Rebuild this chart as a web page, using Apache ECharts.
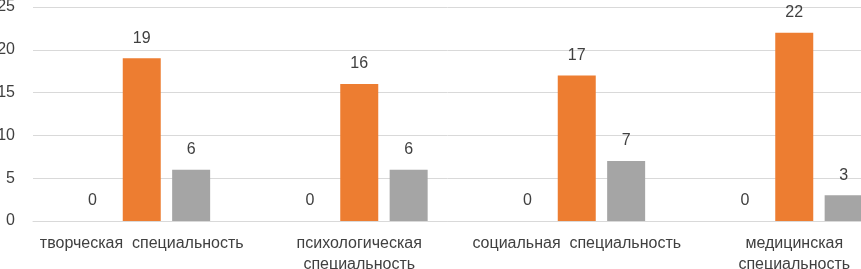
<!DOCTYPE html>
<html>
<head>
<meta charset="utf-8">
<script src="https://cdn.jsdelivr.net/npm/echarts@6/dist/echarts.min.js"></script>
<style>
  html, body { margin: 0; padding: 0; background: #fff; }
  #chart { width: 861px; height: 269px; }
</style>
</head>
<body>
<div id="chart"></div>
<script>
// категории и значения рядов
const categories = [
  'творческая  специальность',
  'психологическая\nспециальность',
  'социальная  специальность',
  'медицинская\nспециальность'
];
const series1 = [0, 0, 0, 0];
const series2 = [19, 16, 17, 22];
const series3 = [6, 6, 7, 3];
const yTicks = { min: 0, max: 25, interval: 5 };

const font = 'Liberation Sans, Arial, sans-serif';
const labelStyle = {
  show: true,
  position: 'top',
  distance: 12,
  color: '#404040',
  fontSize: 16,
  fontFamily: font
};

const myChart = echarts.init(document.getElementById('chart'));
myChart.setOption({
  animation: false,
  grid: { left: 33, right: -42, top: 7, bottom: 48, outerBoundsMode: 'none', containLabel: false },
  xAxis: {
    type: 'category',
    data: categories,
    axisLine: { lineStyle: { color: '#D9D9D9' } },
    axisTick: { show: false },
    axisLabel: {
      color: '#404040',
      fontSize: 16,
      fontFamily: font,
      lineHeight: 21,
      margin: 12,
      interval: 0
    }
  },
  yAxis: {
    type: 'value',
    min: yTicks.min,
    max: yTicks.max,
    interval: yTicks.interval,
    axisLine: { show: false },
    axisTick: { show: false },
    axisLabel: { color: '#404040', fontSize: 16, fontFamily: font, margin: 18 },
    splitLine: { lineStyle: { color: '#D9D9D9' } }
  },
  series: [
    { type: 'bar', data: series1, barWidth: 38, barGap: '30%', itemStyle: { color: '#4472C4' }, label: labelStyle },
    { type: 'bar', data: series2, barWidth: 38, barGap: '30%', itemStyle: { color: '#ED7D31' }, label: labelStyle },
    { type: 'bar', data: series3, barWidth: 38, barGap: '30%', itemStyle: { color: '#A5A5A5' }, label: labelStyle }
  ]
});
</script>
</body>
</html>
